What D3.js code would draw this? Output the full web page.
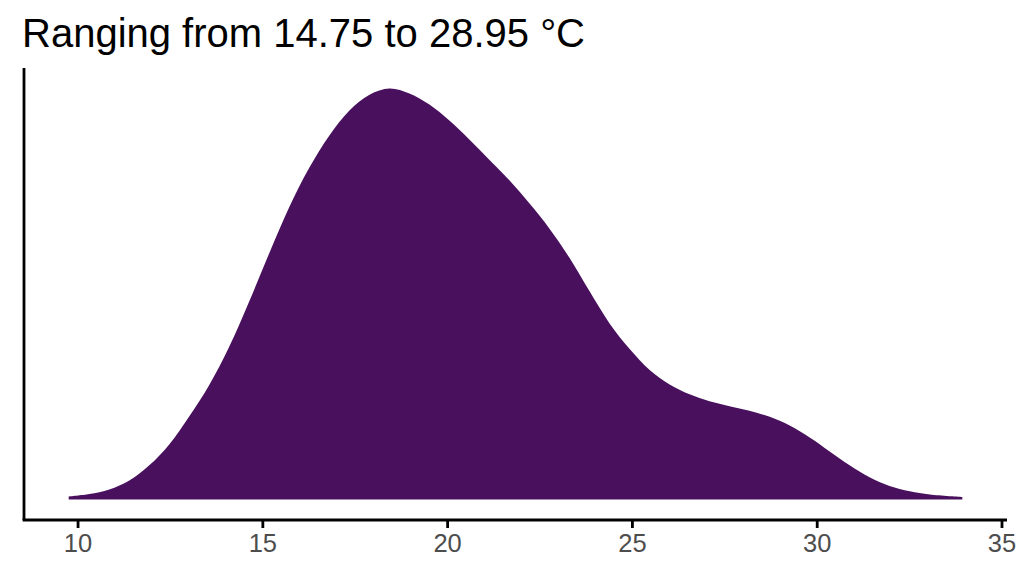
<!DOCTYPE html>
<html lang="en">
<head>
    <meta charset="UTF-8">
    <title>Temperature density</title>
    <script src="https://d3js.org/d3.v7.min.js"></script>
    <style>
        body { margin: 0; background: #fff; }
        .axis path, .axis line {
            stroke: #000;
            stroke-width: 2.8px;
        }
        .axis text {
            font-family: "Liberation Sans", Arial, sans-serif;
            font-size: 25.5px;
            fill: #4d4d4d;
        }
        .title {
            font-family: "Liberation Sans", Arial, sans-serif;
            font-size: 40px;
            fill: #000;
        }
    </style>
</head>
<body>
    <svg id="chart" width="1024" height="576"></svg>
    <script>
        // temperature (°C) sampled along the curve, and the density at each point
        const temps = [9.76, 10.32, 10.86, 11.40, 11.94, 12.48, 13.02, 13.56, 14.10, 14.65,
                       15.19, 15.73, 16.27, 16.81, 17.35, 17.90, 18.44, 18.98, 19.52, 20.06,
                       20.60, 21.14, 21.69, 22.23, 22.77, 23.31, 23.85, 24.39, 24.94, 25.48,
                       26.02, 26.56, 27.10, 27.64, 28.18, 28.73, 29.27, 29.81, 30.35, 30.89,
                       31.43, 31.97, 32.52, 33.06, 33.94];
        const density = [0.0007, 0.0013, 0.0024, 0.0046, 0.0083, 0.0134, 0.0202, 0.0278, 0.0371, 0.0483,
                         0.0600, 0.0712, 0.0807, 0.0885, 0.0946, 0.0985, 0.1000, 0.0988, 0.0961, 0.0922,
                         0.0876, 0.0827, 0.0776, 0.0720, 0.0659, 0.0588, 0.0507, 0.0429, 0.0366, 0.0315,
                         0.0280, 0.0256, 0.0239, 0.0227, 0.0216, 0.0201, 0.0180, 0.0151, 0.0117, 0.0083,
                         0.0054, 0.0033, 0.0020, 0.0012, 0.0006];
        const xTicks = [10, 15, 20, 25, 30, 35];
        const titleText = "Ranging from 14.75 to 28.95 °C";

        const data = temps.map((t, i) => ({ t: t, d: density[i] }));

        const panel = { left: 24, right: 1007, top: 68, bottom: 520 };

        // ggplot-style 5% expansion
        const [tMin, tMax] = d3.extent(temps);
        const padX = (tMax - tMin) * 0.05;
        const dMax = d3.max(density);
        const padY = dMax * 0.05;

        const x = d3.scaleLinear().domain([tMin - padX, tMax + padX]).range([panel.left, panel.right]);
        const y = d3.scaleLinear().domain([-padY, dMax + padY]).range([panel.bottom, panel.top]);

        const svg = d3.select("#chart");

        const area = d3.area()
            .x(d => x(d.t))
            .y0(y(0))
            .y1(d => y(d.d))
            .curve(d3.curveCatmullRom.alpha(0.5));

        svg.append("path")
            .datum(data)
            .attr("d", area)
            .attr("fill", "#48105d");

        // x axis
        svg.append("g").attr("class", "axis")
            .attr("transform", `translate(0,${panel.bottom})`)
            .call(d3.axisBottom(x).tickValues(xTicks).tickSize(8).tickSizeOuter(0).tickPadding(6))
            .call(g => g.select(".domain").attr("d", `M${panel.left - 1.4},0H${panel.right}`));

        // y axis (line only)
        svg.append("g").attr("class", "axis")
            .attr("transform", `translate(${panel.left},0)`)
            .call(d3.axisLeft(y).tickValues([]).tickSizeOuter(0))
            .call(g => g.select(".domain").attr("d", `M0,${panel.top}V${panel.bottom}`));

        svg.append("text")
            .attr("class", "title")
            .attr("x", 22)
            .attr("y", 47)
            .text(titleText);
    </script>
</body>
</html>
